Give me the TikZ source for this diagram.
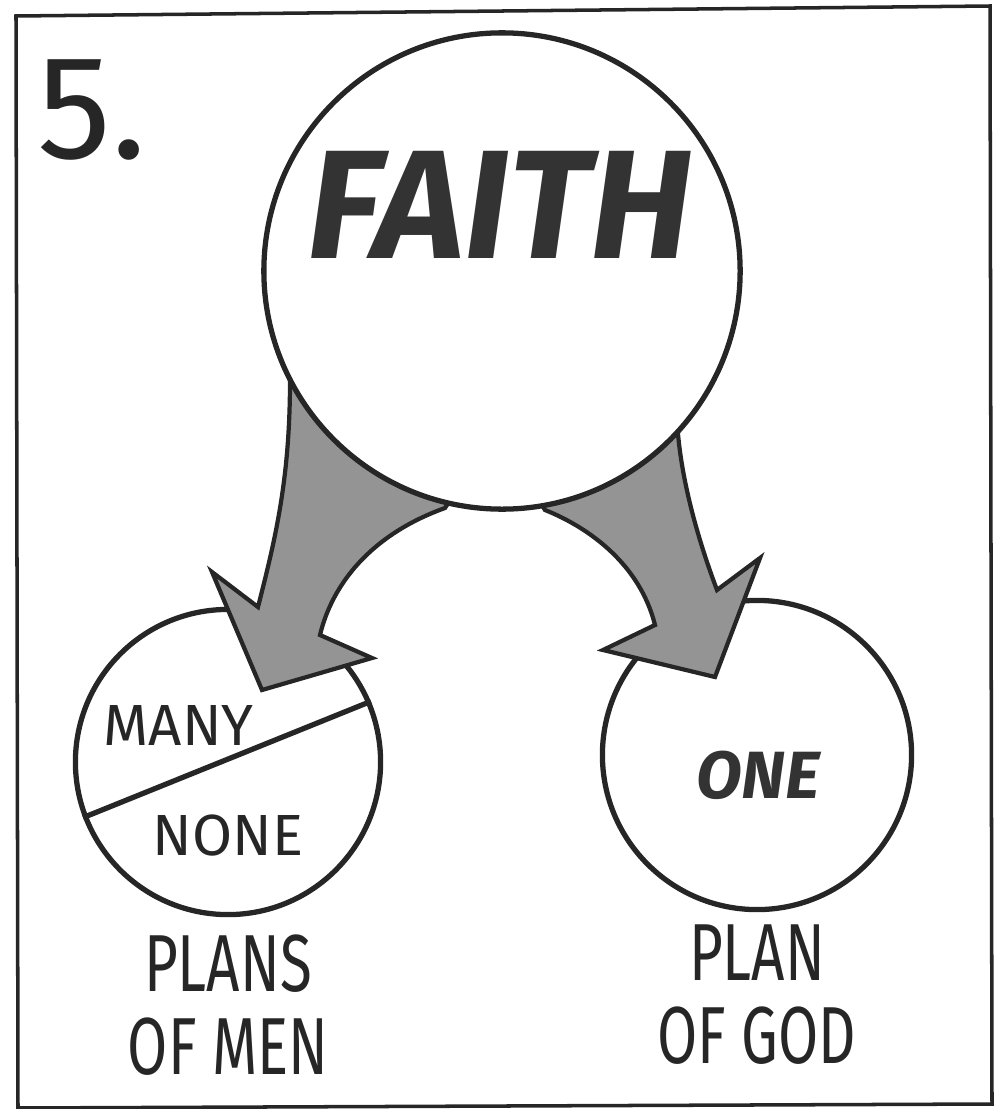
\documentclass[tikz,border=0pt]{standalone}
\usepackage{fontspec}
\setmainfont{Fira Sans}
\newfontfamily\handfont{Fira Sans}[FakeStretch=0.72]
\usetikzlibrary{positioning}

\begin{document}
\begin{tikzpicture}[
    x=0.01cm, y=-0.01cm,
    disc/.style={circle, draw=black!85, line width=1.5pt, fill=white, inner sep=0pt},
    fatarrow/.style={draw=black!85, line width=1.2pt, fill=black!42, line join=miter},
    tag/.style={font=\handfont\fontsize{23}{23.6}\selectfont, align=center, inner sep=0pt, text=black!85},
    word/.style={font=\fontsize{16.5}{18}\selectfont, inner sep=0pt, text=black!85},
    heavy/.style={font=\bfseries\itshape\fontsize{#1}{#1}\selectfont, inner sep=0pt, text=black!80}
]
\useasboundingbox (0,0) rectangle (999,1109);
\draw [line width=1pt, black!85] (16,16) -- (990,6) -- (992,1104) -- (18,1108) -- cycle;
\node [word, font=\fontsize{42}{44}\selectfont] (num) at (92,110) {5.};
\node [disc, minimum size=3.05cm] (lcirc) at (228,762) {};
\node [disc, minimum size=3.09cm] (rcirc) at (757,755) {};
\draw [line width=1.5pt, black!85] (lcirc.201) -- (lcirc.23);
\node [word, anchor=west] (many) at (103,725) {MANY};
\node [word] (none) at (228,835) {NONE};
\node [heavy=19] (one) at (758,775) {ONE};
\node [tag, below=0.17cm of lcirc] (men) {PLANS\\OF MEN};
\node [tag, below=0.12cm of rcirc] (god) {PLAN\\OF GOD};
% shaded arrows, tucked under the big circle
\path [fatarrow] (300,330) -- (290,380) .. controls (290,480) and (275,540) .. (258,607) -- (212,572) -- (262,690) -- (372,658) -- (320,635) .. controls (332,585) and (370,535) .. (445,508) -- (470,470) -- cycle;
\path [fatarrow] (520,470) -- (545,510) .. controls (590,528) and (640,565) .. (655,625) -- (603,650) -- (715,677) -- (760,558) -- (717,590) .. controls (700,545) and (680,480) .. (677,420) -- (640,400) -- cycle;
\node [disc, minimum size=4.76cm] (faith) at (502,271) {};
\node [heavy=44] (faithword) at (500,205) {FAITH};
\end{tikzpicture}
\end{document}
